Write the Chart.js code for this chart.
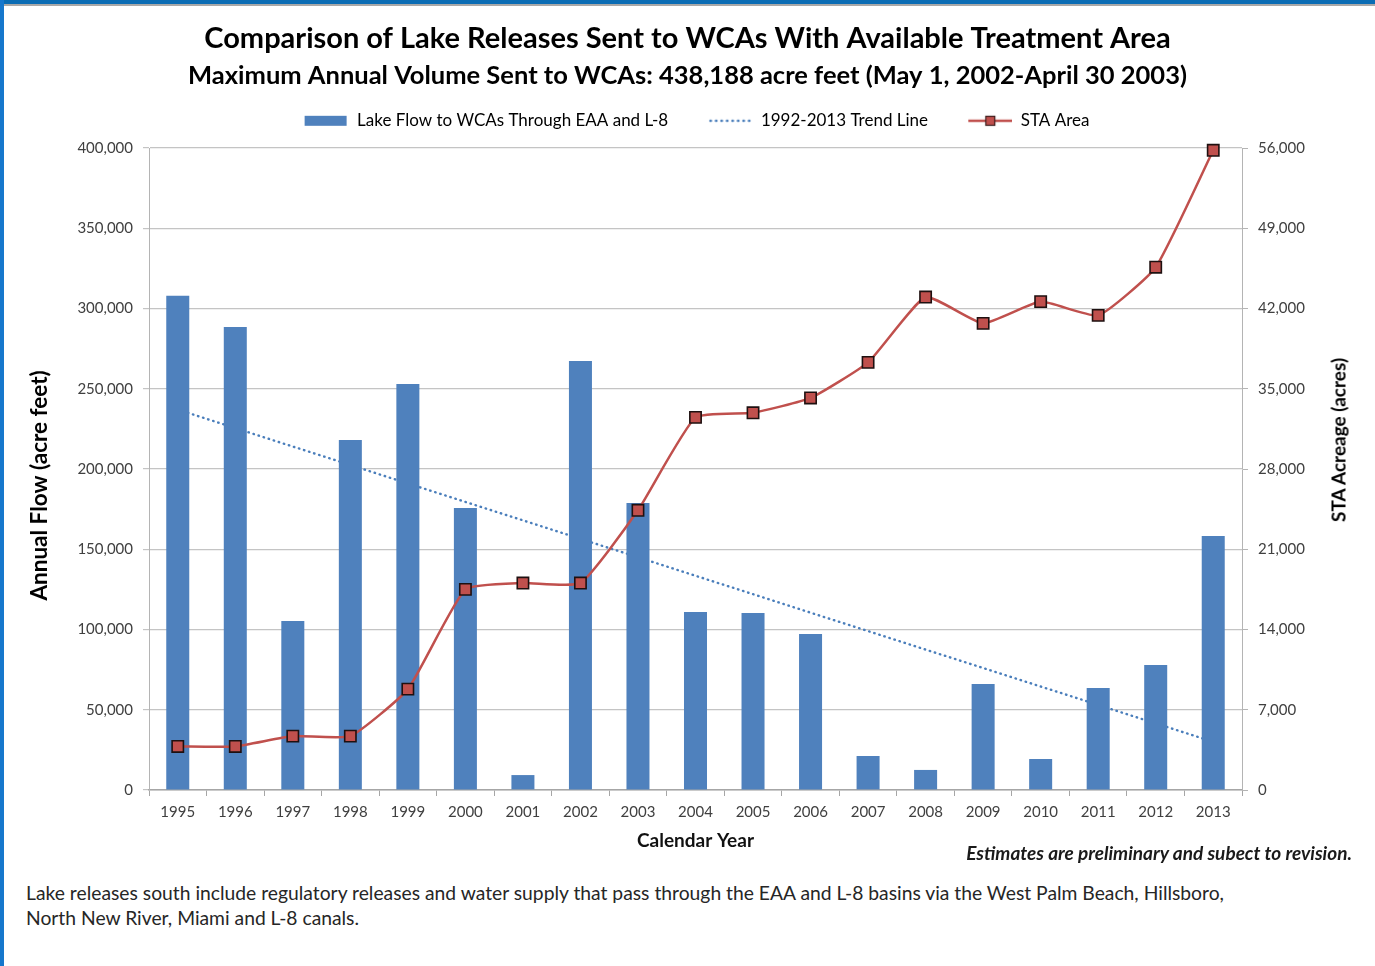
<!DOCTYPE html>
<html><head><meta charset="utf-8">
<script src="https://cdn.jsdelivr.net/npm/chart.js@4.4.1/dist/chart.umd.min.js"></script>
<style>
html,body{margin:0;padding:0;background:#fff;}
#page{position:relative;width:1375px;height:966px;overflow:hidden;background:#fff;font-family:Lato,sans-serif;}
#chartBox{position:absolute;left:0;top:0;width:1375px;height:870px;}
#topBar{position:absolute;left:0;top:0;width:1375px;height:4px;background:#0a6cb4;border-bottom:2px solid #a8a8a8;}
#leftBar{position:absolute;left:0;top:0;width:4px;height:966px;background:#1677cc;}
#estimate{position:absolute;right:23px;top:843px;font:italic bold 19px Lato,sans-serif;line-height:19px;color:#1a1a1a;white-space:nowrap;}
#note{position:absolute;left:26px;top:880px;font:19.3px Lato,sans-serif;line-height:25px;color:#262626;white-space:nowrap;}
#y1title{position:absolute;left:1338px;top:440px;transform:translate(-50%,-50%) rotate(-90deg);font:bold 19px Lato,sans-serif;line-height:19px;color:#000;white-space:nowrap;}
</style></head>
<body>
<div id="page">
  <div id="chartBox"><canvas id="c"></canvas></div>
  <div id="topBar"></div>
  <div id="leftBar"></div>
  <div id="y1title"></div>
  <div id="estimate">Estimates are preliminary and subect to revision.</div>
  <div id="note">Lake releases south include regulatory releases and water supply that pass through the EAA and L-8 basins via the West Palm Beach, Hillsboro,<br>North New River, Miami and L-8 canals.</div>
</div>
<script>
// ---- data ----
const years = ['1995','1996','1997','1998','1999','2000','2001','2002','2003','2004','2005','2006','2007','2008','2009','2010','2011','2012','2013'];
const lakeFlow = [308000,288500,105300,218000,253000,175700,9300,267300,178800,110900,110300,97200,21200,12500,66000,19300,63600,77900,158300];
const staArea = [3800,3800,4700,4700,8800,17500,18050,18050,24400,32500,32900,34200,37300,43000,40700,42600,41400,45600,55800];
const trendLine = [237000,null,null,null,null,null,null,null,null,null,null,null,null,null,null,null,null,null,30000];
const flowTicks = [0,50000,100000,150000,200000,250000,300000,350000,400000];
const staTicks = [0,7000,14000,21000,28000,35000,42000,49000,56000];
const titleText = 'Comparison of Lake Releases Sent to WCAs With Available Treatment Area';
const subtitleText = 'Maximum Annual Volume Sent to WCAs: 438,188 acre feet (May 1, 2002-April 30 2003)';
const seriesNames = ['Lake Flow to WCAs Through EAA and L-8','1992-2013 Trend Line','STA Area'];
const xTitle = 'Calendar Year';
const yTitle = 'Annual Flow (acre feet)';
const y1Title = 'STA Acreage (acres)';

document.getElementById('y1title').textContent = y1Title;

// ---- styles ----
const BLUE = '#4f81bd', RED = '#c0504d', TREND = '#4a7ebb';
Chart.defaults.font.family = 'Lato, sans-serif';
Chart.defaults.color = '#404040';

function swatch(kind){
  const lead = 19, w = 44, cv = document.createElement('canvas');
  cv.width = lead + w; cv.height = 14;
  const g = cv.getContext('2d');
  if (kind === 'bar') { g.fillStyle = BLUE; g.fillRect(lead, 2, 42, 10); }
  else if (kind === 'trend') { g.strokeStyle = TREND; g.lineWidth = 2.4; g.lineCap = 'round'; g.setLineDash([0.5,5]); g.beginPath(); g.moveTo(lead+2, 7); g.lineTo(lead+w, 7); g.stroke(); }
  else { g.strokeStyle = RED; g.lineWidth = 2.5; g.beginPath(); g.moveTo(lead, 7); g.lineTo(lead+w, 7); g.stroke();
         g.fillStyle = RED; g.fillRect(lead+17.5, 2.5, 9, 9); g.strokeStyle = '#3b1d1d'; g.lineWidth = 1.2; g.strokeRect(lead+17.5, 2.5, 9, 9); }
  return cv;
}
const swatches = [swatch('bar'), swatch('trend'), swatch('sta')];

new Chart(document.getElementById('c'), {
  data: {
    labels: years,
    datasets: [
      { type:'line', label: seriesNames[2], data: staArea, yAxisID:'y1', xAxisID:'x', order:0, clip:false,
        borderColor: RED, borderWidth: 2.5, pointStyle:'rect', pointRadius:8, pointBackgroundColor: RED,
        pointBorderColor:'#1e1010', pointBorderWidth:1.6, tension:0.15, fill:false },
      { type:'bar', label: seriesNames[0], data: lakeFlow, yAxisID:'y', xAxisID:'x', order:1,
        backgroundColor: BLUE, borderWidth:0, barPercentage:0.4, categoryPercentage:1 },
      { type:'line', label: seriesNames[1], data: trendLine, yAxisID:'y', xAxisID:'x', order:2,
        borderColor: TREND, borderWidth:2.4, borderCapStyle:'round', borderDash:[0.5,4.8], pointRadius:0, spanGaps:true, fill:false }
    ]
  },
  options: {
    responsive:true, maintainAspectRatio:false, animation:false,
    layout:{ padding:{ top:0, bottom:0, left:0, right:0 } },
    plugins:{
      title:{ display:true, text:titleText, color:'#000', font:{ size:29, weight:'bold' }, padding:{ top:21.4, bottom:0 } },
      subtitle:{ display:true, text:subtitleText, color:'#000', font:{ size:25.5, weight:'bold' }, padding:{ top:4.3, bottom:0 } },
      legend:{ display:true, position:'top',
        labels:{ usePointStyle:true, pointStyleWidth:63, padding:21.2, color:'#262626', font:{ size:17 },
          generateLabels:(chart)=> [0,1,2].map(i=>({ text: seriesNames[i], pointStyle: swatches[i], datasetIndex: [1,2,0][i], fillStyle:'#fff', strokeStyle:'#fff', lineWidth:0, hidden:false })) } },
      tooltip:{ enabled:false }
    },
    scales:{
      x:{ type:'category', position:'bottom', offset:true,
        grid:{ display:true, drawOnChartArea:false, drawTicks:true, tickLength:6, color:'#a6a6a6', offset:true },
        border:{ display:true, color:'#a6a6a6', width:1.5 },
        ticks:{ font:{ size:15 }, color:'#404040', padding:7, maxRotation:0, autoSkip:false },
        title:{ display:true, text:xTitle, color:'#111', font:{ size:19, weight:'bold' }, padding:{ top:0, bottom:17.6 } },
        afterFit:(s)=>{ s.height = 80; } },
      xTop:{ type:'category', position:'top', display:true,
        grid:{ display:false }, border:{ display:false }, ticks:{ display:false },
        afterFit:(s)=>{ s.height = 8.7; } },
      y:{ type:'linear', position:'left', min:0, max:400000,
        afterBuildTicks:(s)=>{ s.ticks = flowTicks.map(v=>({value:v})); },
        grid:{ color:'#c4c4c4', lineWidth:1.2, tickLength:6, drawTicks:true },
        border:{ display:true, color:'#b4b4b4' },
        ticks:{ font:{ size:15 }, color:'#404040', padding:10 },
        title:{ display:true, text: yTitle + '      ', color:'#000', font:{ size:22.5, weight:'bold' }, padding:{ top:26.5, bottom:0 } },
        afterFit:(s)=>{ s.width = 149; } },
      y1:{ type:'linear', position:'right', min:0, max:56000,
        afterBuildTicks:(s)=>{ s.ticks = staTicks.map(v=>({value:v})); },
        grid:{ drawOnChartArea:false, color:'#b4b4b4', tickLength:6, drawTicks:true },
        border:{ display:true, color:'#b4b4b4' },
        ticks:{ font:{ size:15 }, color:'#404040', padding:10 },
        title:{ display:false, text: y1Title },
        afterFit:(s)=>{ s.width = 133; } }
    }
  }
});
</script>
</body></html>
